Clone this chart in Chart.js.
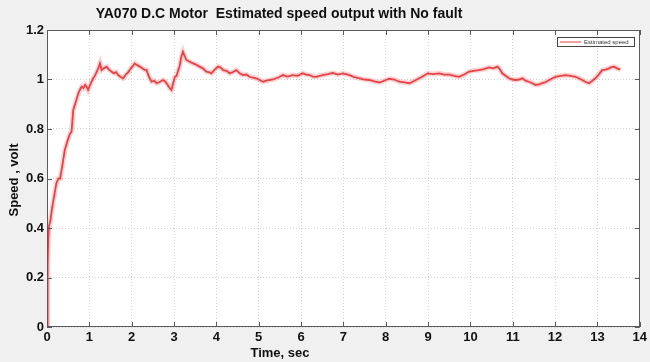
<!DOCTYPE html>
<html>
<head>
<meta charset="utf-8">
<script src="https://cdn.jsdelivr.net/npm/chart.js@4/dist/chart.umd.min.js"></script>
<style>
html,body{margin:0;padding:0;background:#f0f0f0;}
#wrap{width:650px;height:362px;position:relative;}
</style>
</head>
<body>
<div id="wrap"><canvas id="c" width="650" height="362"></canvas></div>
<script>
const chartTitle = "YA070 D.C Motor  Estimated speed output with No fault";
const xLabel = "Time, sec";
const yLabel = "Speed , volt";
const legendLabel = "Estimated speed";
const xTicks = [0,1,2,3,4,5,6,7,8,9,10,11,12,13,14];
const yTicks = [0,0.2,0.4,0.6,0.8,1,1.2];

const time = [
 0, 0.01, 0.02, 0.03, 0.05, 0.08, 0.12, 0.17, 0.22, 0.27,
 0.31, 0.36, 0.42, 0.48, 0.54, 0.58, 0.62, 0.68, 0.74, 0.78,
 0.82, 0.86, 0.9, 0.94, 0.97, 1.01, 1.05, 1.09, 1.13, 1.17,
 1.21, 1.25, 1.29, 1.34, 1.41, 1.46, 1.52, 1.58, 1.63, 1.68,
 1.74, 1.8, 1.86, 1.92, 1.98, 2.03, 2.07, 2.13, 2.19, 2.25,
 2.3, 2.35, 2.41, 2.47, 2.53, 2.59, 2.66, 2.74, 2.8, 2.85,
 2.9, 2.94, 2.98, 3.02, 3.06, 3.1, 3.13, 3.17, 3.21, 3.25,
 3.29, 3.37, 3.45, 3.52, 3.6, 3.68, 3.76, 3.82, 3.88, 3.96,
 4.04, 4.1, 4.16, 4.24, 4.31, 4.39, 4.47, 4.55, 4.63, 4.71,
 4.78, 4.86, 4.94, 5.02, 5.1, 5.18, 5.26, 5.34, 5.41, 5.49,
 5.57, 5.68, 5.8, 5.92, 6.04, 6.12, 6.2, 6.28, 6.36, 6.44,
 6.51, 6.63, 6.75, 6.87, 6.98, 7.06, 7.14, 7.26, 7.38, 7.5,
 7.61, 7.73, 7.85, 7.96, 8.08, 8.2, 8.32, 8.44, 8.56, 8.68,
 8.79, 8.9, 8.99, 9.12, 9.26, 9.38, 9.5, 9.62, 9.73, 9.85,
 9.97, 10.08, 10.2, 10.32, 10.44, 10.54, 10.64, 10.7, 10.75, 10.83,
 10.91, 10.99, 11.07, 11.15, 11.23, 11.3, 11.38, 11.46, 11.54, 11.62,
 11.7, 11.78, 11.86, 11.94, 12.01, 12.13, 12.25, 12.36, 12.48, 12.56,
 12.64, 12.72, 12.8, 12.88, 12.95, 13.03, 13.11, 13.19, 13.27, 13.33,
 13.39, 13.46, 13.54
];
const speed = [
 0, 0.12, 0.25, 0.36, 0.41, 0.43, 0.48, 0.53, 0.58, 0.60,
 0.60, 0.65, 0.715, 0.75, 0.78, 0.79, 0.877, 0.91, 0.944, 0.96,
 0.971, 0.965, 0.978, 0.97, 0.958, 0.975, 0.99, 1.005, 1.015, 1.03,
 1.045, 1.065, 1.038, 1.045, 1.052, 1.04, 1.032, 1.025, 1.03, 1.018,
 1.01, 1.005, 1.02, 1.03, 1.045, 1.055, 1.065, 1.058, 1.052, 1.045,
 1.04, 1.038, 1.01, 0.991, 0.995, 0.985, 0.99, 0.998, 0.99, 0.978,
 0.965, 0.958, 0.985, 1.011, 1.015, 1.038, 1.052, 1.09, 1.112, 1.095,
 1.079, 1.072, 1.065, 1.06, 1.052, 1.045, 1.032, 1.03, 1.025, 1.04,
 1.052, 1.048, 1.038, 1.035, 1.025, 1.03, 1.038, 1.025, 1.018, 1.02,
 1.011, 1.008, 1.005, 0.998, 0.991, 0.995, 0.998, 1.0, 1.005, 1.01,
 1.018, 1.012, 1.018, 1.015, 1.025, 1.02, 1.018, 1.012, 1.011, 1.015,
 1.018, 1.022, 1.027, 1.02, 1.025, 1.022, 1.018, 1.01, 1.005, 1.0,
 0.998, 0.992, 0.988, 0.995, 1.003, 1.0, 0.991, 0.988, 0.985, 0.995,
 1.005, 1.015, 1.025, 1.022, 1.025, 1.02, 1.02, 1.015, 1.011, 1.02,
 1.032, 1.035, 1.038, 1.042, 1.049, 1.045, 1.052, 1.04, 1.025, 1.015,
 1.005, 1.0, 0.998, 1.0, 1.005, 0.995, 0.991, 0.985, 0.978, 0.98,
 0.985, 0.99, 0.998, 1.005, 1.011, 1.015, 1.018, 1.015, 1.011, 1.005,
 0.998, 0.99, 0.985, 0.995, 1.005, 1.02, 1.038, 1.04, 1.045, 1.05,
 1.052, 1.045, 1.04
];

const points = time.map((t, i) => ({x: t, y: speed[i]}));
const FONT = "'Liberation Sans', Arial, sans-serif";

const decor = {
  id: 'decor',
  beforeDraw(chart) {
    const {ctx, chartArea: a} = chart;
    ctx.save();
    ctx.fillStyle = '#f0f0f0';
    ctx.fillRect(0, 0, chart.width, chart.height);
    ctx.fillStyle = '#ffffff';
    ctx.fillRect(a.left, a.top, a.right - a.left, a.bottom - a.top);
    ctx.restore();
  },
  afterDraw(chart) {
    const {ctx, chartArea: a, scales} = chart;
    const xs = scales.x, ys = scales.y;
    ctx.save();
    ctx.strokeStyle = '#5a5a5a';
    ctx.lineWidth = 1;
    ctx.strokeRect(Math.round(a.left) + 0.5, Math.round(a.top) + 0.5,
                   Math.round(a.right - a.left) - 1, Math.round(a.bottom - a.top) - 1);
    ctx.beginPath();
    xTicks.forEach(v => {
      const px = Math.round(xs.getPixelForValue(v)) + 0.5;
      ctx.moveTo(px, a.bottom); ctx.lineTo(px, a.bottom - 5);
      ctx.moveTo(px, a.top); ctx.lineTo(px, a.top + 5);
    });
    yTicks.forEach(v => {
      const py = Math.round(ys.getPixelForValue(v)) + 0.5;
      ctx.moveTo(a.left, py); ctx.lineTo(a.left + 5, py);
      ctx.moveTo(a.right, py); ctx.lineTo(a.right - 5, py);
    });
    ctx.stroke();
    // legend
    const lx = 557, ly = 37, lw = 77, lh = 9;
    ctx.fillStyle = '#ffffff';
    ctx.fillRect(lx, ly, lw, lh);
    ctx.strokeStyle = '#444';
    ctx.strokeRect(lx + 0.5, ly + 0.5, lw, lh);
    ctx.strokeStyle = 'rgb(230,60,60)';
    ctx.beginPath();
    ctx.moveTo(lx + 3, ly + 5); ctx.lineTo(lx + 24, ly + 5);
    ctx.stroke();
    ctx.fillStyle = '#333';
    ctx.font = '6px ' + FONT;
    ctx.textBaseline = 'middle';
    ctx.textAlign = 'left';
    ctx.fillText(legendLabel, lx + 27, ly + 5);
    // title
    ctx.fillStyle = '#111';
    ctx.font = 'bold 14px ' + FONT;
    ctx.textAlign = 'center';
    ctx.fillText(chartTitle, 279, 14);
    // x label
    ctx.font = 'bold 13px ' + FONT;
    ctx.fillText(xLabel, 280, 353);
    // y label
    ctx.translate(14, 180);
    ctx.rotate(-Math.PI / 2);
    ctx.fillText(yLabel, 0, 0);
    ctx.restore();
  }
};

new Chart(document.getElementById('c'), {
  type: 'line',
  data: {
    datasets: [
      {data: points, borderColor: 'rgba(255,130,130,0.35)', borderWidth: 5, pointRadius: 0, tension: 0},
      {data: points, borderColor: 'rgb(215,35,40)', borderWidth: 1.8, pointRadius: 0, tension: 0}
    ]
  },
  options: {
    responsive: false,
    animation: false,
    events: [],
    layout: {padding: {left: 0, top: 30, right: 9, bottom: 0}},
    plugins: {legend: {display: false}, tooltip: {enabled: false}},
    scales: {
      x: {
        type: 'linear', min: 0, max: 14,
        afterBuildTicks(s) { s.ticks = xTicks.map(v => ({value: v})); },
        afterFit(s) { s.height = 35; },
        grid: {color: '#d4d4d4', drawTicks: false, lineWidth: 1},
        border: {display: false, dash: [1, 2]},
        ticks: {color: '#111', font: {family: FONT, size: 13, weight: 'bold'}, padding: 3, maxRotation: 0, autoSkip: false,
                callback: v => String(v)}
      },
      y: {
        type: 'linear', min: 0, max: 1.2,
        afterBuildTicks(s) { s.ticks = yTicks.map(v => ({value: v})); },
        afterFit(s) { s.width = 47; },
        grid: {color: '#d4d4d4', drawTicks: false, lineWidth: 1},
        border: {display: false, dash: [1, 2]},
        ticks: {color: '#111', font: {family: FONT, size: 13, weight: 'bold'}, padding: 3, autoSkip: false,
                callback: v => String(+v.toFixed(1))}
      }
    }
  },
  plugins: [decor]
});
</script>
</body>
</html>
